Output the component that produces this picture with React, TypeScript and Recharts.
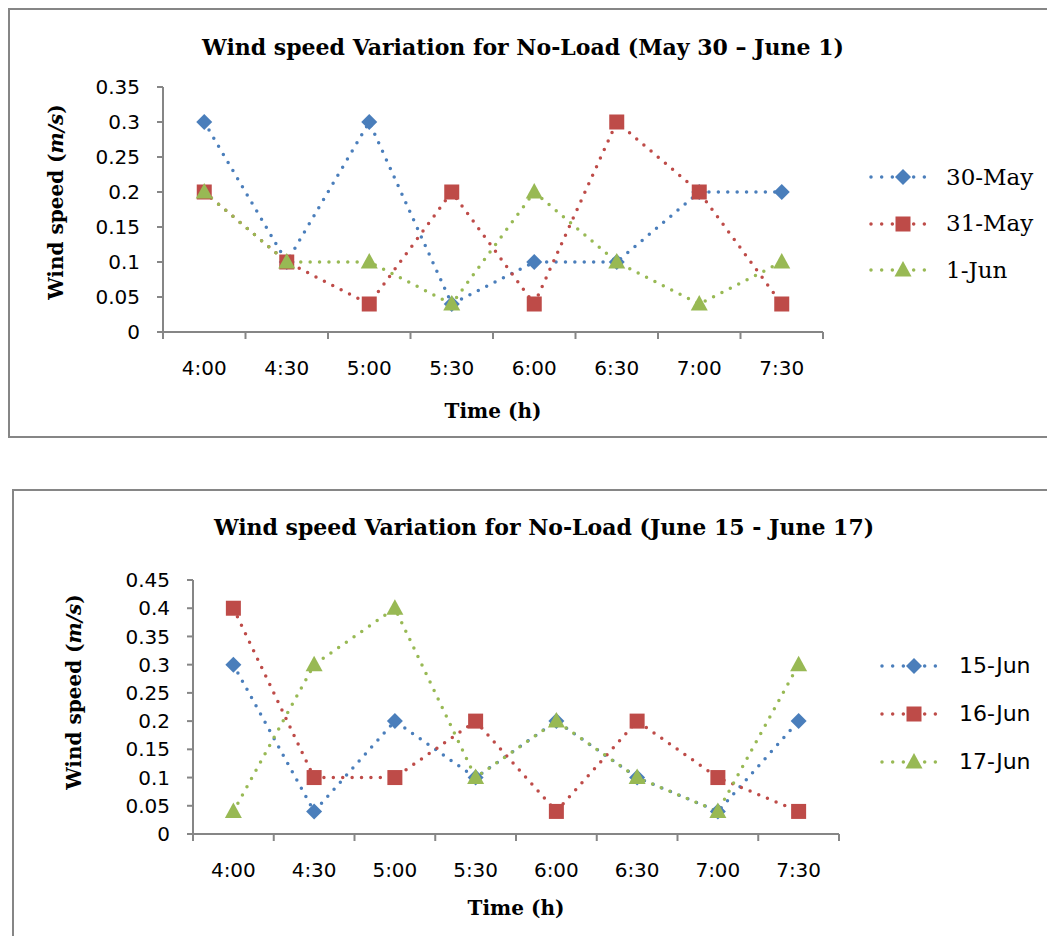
import React from 'react';
import { LineChart, Line, XAxis, YAxis, Legend } from 'recharts';

// ---------- data ----------
const categories = ['4:00', '4:30', '5:00', '5:30', '6:00', '6:30', '7:00', '7:30'];

const may30 = [0.3, 0.1, 0.3, 0.04, 0.1, 0.1, 0.2, 0.2];
const may31 = [0.2, 0.1, 0.04, 0.2, 0.04, 0.3, 0.2, 0.04];
const jun1 = [0.2, 0.1, 0.1, 0.04, 0.2, 0.1, 0.04, 0.1];

const jun15 = [0.3, 0.04, 0.2, 0.1, 0.2, 0.1, 0.04, 0.2];
const jun16 = [0.4, 0.1, 0.1, 0.2, 0.04, 0.2, 0.1, 0.04];
const jun17 = [0.04, 0.3, 0.4, 0.1, 0.2, 0.1, 0.04, 0.3];

const yTicksTop = [0, 0.05, 0.1, 0.15, 0.2, 0.25, 0.3, 0.35];
const yTicksBottom = [0, 0.05, 0.1, 0.15, 0.2, 0.25, 0.3, 0.35, 0.4, 0.45];

const seriesNamesTop = ['30-May', '31-May', '1-Jun'];
const seriesNamesBottom = ['15-Jun', '16-Jun', '17-Jun'];

const titleTop = 'Wind speed Variation for No-Load (May 30 \u2013 June 1)';
const titleBottom = 'Wind speed Variation for No-Load (June 15 - June 17)';

// ---------- styling ----------
const BLUE = '#4A7EBB';
const RED = '#BE4B48';
const GREEN = '#98B954';
const AXIS = '#868686';
const COLORS = [BLUE, RED, GREEN];
const SHAPES = ['diamond', 'square', 'triangle'];

const xTickPositions: number[] = categories
  .flatMap((_, i) => [i, i + 0.5])
  .concat([categories.length]);

function buildData(a: number[], b: number[], c: number[]) {
  return categories.map((cat, i) => ({ x: i + 0.5, cat, s0: a[i], s1: b[i], s2: c[i] }));
}

function Marker({ shape, cx, cy, color }: any) {
  if (cx == null || cy == null) return null;
  if (shape === 'diamond') {
    return (
      <polygon
        points={`${cx},${cy - 8} ${cx + 8},${cy} ${cx},${cy + 8} ${cx - 8},${cy}`}
        fill={color}
      />
    );
  }
  if (shape === 'square') {
    return <rect x={cx - 7.5} y={cy - 7.5} width={15} height={15} fill={color} />;
  }
  return (
    <polygon
      points={`${cx},${cy - 9} ${cx + 8.5},${cy + 6.5} ${cx - 8.5},${cy + 6.5}`}
      fill={color}
    />
  );
}

type PanelProps = {
  data: any[];
  names: string[];
  title: string;
  yTicks: number[];
  yMax: number;
  width: number;
  height: number;
  plotLeft: number;
  plotRight: number;
  plotTop: number;
  plotBottom: number;
  titleX: number;
  titleY: number;
  yLabelX: number;
  yLabelY: number;
  xLabelY: number;
  legendLeft: number;
  legendTop: number;
  legendRowH: number;
  legendFont: string;
  legendFontSize: number;
  legendGap: number;
};

function ChartPanel(p: PanelProps) {
  const yAxisWidth = 60;
  const xAxisHeight = 30;
  const margin = {
    top: p.plotTop,
    left: p.plotLeft - yAxisWidth,
    right: p.width - p.plotRight,
    bottom: p.height - p.plotBottom - xAxisHeight,
  };
  const xLabelX = (p.plotLeft + p.plotRight) / 2;

  const XTick = (props: any) => {
    const { x, y, payload } = props;
    const v = payload.value;
    if (Number.isInteger(v)) {
      return <line x1={x} x2={x} y1={y} y2={y + 7} stroke={AXIS} strokeWidth={2} />;
    }
    return (
      <text
        x={x}
        y={y + 43}
        textAnchor="middle"
        fill="#000"
        fontSize={20}
        fontFamily="DejaVu Sans"
      >
        {categories[Math.floor(v)]}
      </text>
    );
  };

  const legendContent = (props: any) => {
    const payload = [...(props.payload || [])].sort(
      (a: any, b: any) =>
        Number(String(a.dataKey).replace('s', '')) - Number(String(b.dataKey).replace('s', ''))
    );
    return (
      <div>
        {payload.map((item: any, i: number) => {
          const idx = Number(String(item.dataKey).replace('s', ''));
          return (
            <div
              key={i}
              style={{ height: p.legendRowH, display: 'flex', alignItems: 'center' }}
            >
              <svg width={70} height={24} style={{ display: 'block' }}>
                <line
                  x1={3}
                  x2={67}
                  y1={12}
                  y2={12}
                  stroke={COLORS[idx]}
                  strokeWidth={3.5}
                  strokeLinecap="round"
                  strokeDasharray="0 10.67"
                />
                <Marker shape={SHAPES[idx]} cx={35} cy={12} color={COLORS[idx]} />
              </svg>
              <span
                style={{
                  marginLeft: p.legendGap,
                  fontFamily: p.legendFont,
                  fontSize: p.legendFontSize,
                  color: '#000',
                  whiteSpace: 'nowrap',
                  lineHeight: 1,
                }}
              >
                {item.value}
              </span>
            </div>
          );
        })}
      </div>
    );
  };

  return (
    <LineChart width={p.width} height={p.height} data={p.data} margin={margin}>
      <text
        x={p.titleX}
        y={p.titleY}
        textAnchor="middle"
        fontFamily="DejaVu Serif"
        fontWeight="bold"
        fontSize={22}
        fill="#000"
      >
        {p.title}
      </text>
      <text
        x={p.yLabelX}
        y={p.yLabelY}
        transform={`rotate(-90, ${p.yLabelX}, ${p.yLabelY})`}
        textAnchor="middle"
        dominantBaseline="central"
        fontFamily="DejaVu Serif"
        fontWeight="bold"
        fontSize={20}
        fill="#000"
      >
        Wind speed (<tspan fontStyle="italic">m/s</tspan>)
      </text>
      <text
        x={xLabelX}
        y={p.xLabelY}
        textAnchor="middle"
        fontFamily="DejaVu Serif"
        fontWeight="bold"
        fontSize={20}
        fill="#000"
      >
        Time (h)
      </text>
      <XAxis
        dataKey="x"
        type="number"
        domain={[0, categories.length]}
        ticks={xTickPositions}
        interval={0}
        tickSize={0}
        tickMargin={0}
        tickLine={false}
        height={xAxisHeight}
        axisLine={{ stroke: AXIS, strokeWidth: 2 }}
        tick={XTick}
        allowDataOverflow
      />
      <YAxis
        type="number"
        domain={[0, p.yMax]}
        ticks={p.yTicks}
        interval={0}
        width={yAxisWidth}
        tickSize={6}
        tickMargin={17}
        axisLine={{ stroke: AXIS, strokeWidth: 2 }}
        tickLine={{ stroke: AXIS, strokeWidth: 2 }}
        tick={{ fill: '#000', fontSize: 20, fontFamily: 'DejaVu Sans' }}
        allowDataOverflow
      />
      <Legend
        layout="vertical"
        align="center"
        verticalAlign="middle"
        wrapperStyle={{ left: p.legendLeft, top: p.legendTop, width: 190 }}
        content={legendContent}
      />
      {[0, 1, 2].map((i) => (
        <Line
          key={i}
          type="linear"
          dataKey={`s${i}`}
          name={p.names[i]}
          stroke={COLORS[i]}
          strokeWidth={3.5}
          strokeLinecap="round"
          strokeDasharray="0 9.4"
          isAnimationActive={false}
          dot={(dp: any) => (
            <Marker key={`d${i}-${dp.index}`} shape={SHAPES[i]} cx={dp.cx} cy={dp.cy} color={COLORS[i]} />
          )}
          activeDot={false}
        />
      ))}
    </LineChart>
  );
}

export default function App() {
  const dataTop = buildData(may30, may31, jun1);
  const dataBottom = buildData(jun15, jun16, jun17);
  return (
    <div
      style={{
        position: 'fixed',
        left: 0,
        top: 0,
        width: 1047,
        height: 936,
        overflow: 'hidden',
        background: '#fff',
      }}
    >
      <div
        style={{
          position: 'absolute',
          left: 8,
          top: 8,
          width: 1060,
          height: 430,
          boxSizing: 'border-box',
          border: `2px solid ${AXIS}`,
        }}
      >
        <ChartPanel
          data={dataTop}
          names={seriesNamesTop}
          title={titleTop}
          yTicks={yTicksTop}
          yMax={0.35}
          width={1040}
          height={426}
          plotLeft={153}
          plotRight={813}
          plotTop={77}
          plotBottom={322}
          titleX={513}
          titleY={45}
          yLabelX={46}
          yLabelY={192}
          xLabelY={408}
          legendLeft={858}
          legendTop={144}
          legendRowH={46.5}
          legendFont="DejaVu Serif"
          legendFontSize={23}
          legendGap={8}
        />
      </div>
      <div
        style={{
          position: 'absolute',
          left: 12,
          top: 489,
          width: 1060,
          height: 470,
          boxSizing: 'border-box',
          border: `2px solid ${AXIS}`,
        }}
      >
        <ChartPanel
          data={dataBottom}
          names={seriesNamesBottom}
          title={titleBottom}
          yTicks={yTicksBottom}
          yMax={0.45}
          width={1040}
          height={455}
          plotLeft={179}
          plotRight={825}
          plotTop={89}
          plotBottom={343}
          titleX={530}
          titleY={44}
          yLabelX={60}
          yLabelY={201}
          xLabelY={424}
          legendLeft={865}
          legendTop={151}
          legendRowH={48}
          legendFont="DejaVu Sans"
          legendFontSize={22}
          legendGap={10}
        />
      </div>
    </div>
  );
}
